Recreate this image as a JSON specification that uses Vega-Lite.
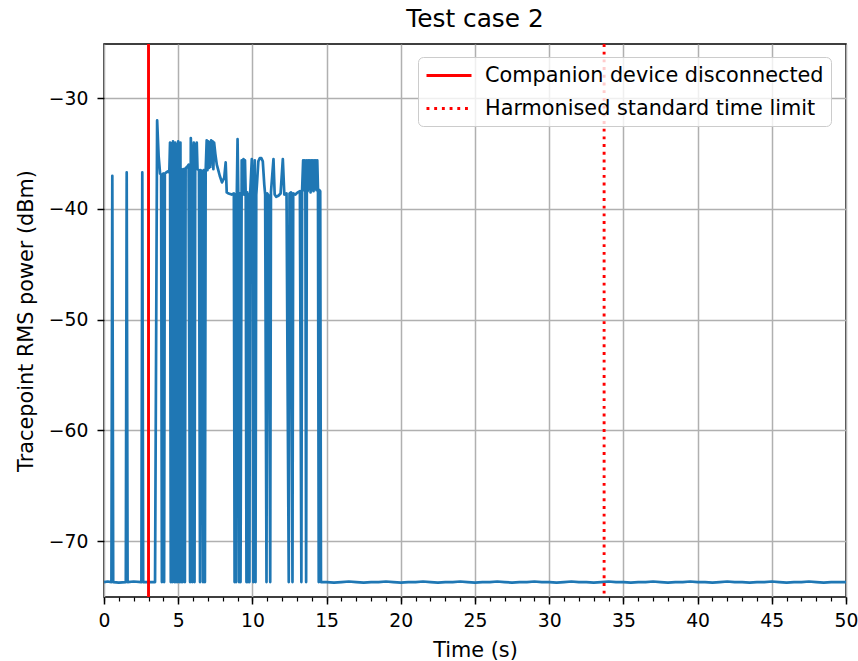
{
  "$schema": "https://vega.github.io/schema/vega-lite/v6.json",
  "autosize": {"type": "none"},
  "width": 742,
  "height": 553,
  "padding": {"left": 104, "top": 44, "right": 12, "bottom": 64},
  "title": {"text": "Test case 2", "fontSize": 24.8, "font": "DejaVu Sans", "fontWeight": "normal", "color": "#000", "offset": 11, "anchor": "middle"},
  "config": {
    "font": "DejaVu Sans",
    "view": {"stroke": "#000", "strokeWidth": 1.5},
    "background": "#ffffff"
  },
  "datasets": {
    "trace": [
      {"t": 0, "p": -73.7}, {"t": 0.25, "p": -73.65}, {"t": 0.5, "p": -73.7}, {"t": 0.56, "p": -37.0}, {"t": 0.62, "p": -73.7},
      {"t": 1.0, "p": -73.75}, {"t": 1.47, "p": -73.7}, {"t": 1.53, "p": -36.7}, {"t": 1.59, "p": -73.7},
      {"t": 2.0, "p": -73.65}, {"t": 2.52, "p": -73.7}, {"t": 2.58, "p": -36.7}, {"t": 2.64, "p": -73.7},
      {"t": 3.0, "p": -73.7}, {"t": 3.44, "p": -73.7}, {"t": 3.58, "p": -32.0}, {"t": 3.68, "p": -35.2}, {"t": 3.78, "p": -36.8},
      {"t": 3.85, "p": -36.9}, {"t": 3.9, "p": -73.7}, {"t": 3.95, "p": -36.9}, {"t": 4.0, "p": -36.8}, {"t": 4.05, "p": -73.7},
      {"t": 4.1, "p": -36.8}, {"t": 4.2, "p": -36.7}, {"t": 4.3, "p": -36.6}, {"t": 4.4, "p": -36.7},
      {"t": 4.45, "p": -34.0}, {"t": 4.5, "p": -73.7}, {"t": 4.55, "p": -34.1}, {"t": 4.6, "p": -73.7}, {"t": 4.65, "p": -33.9},
      {"t": 4.7, "p": -36.5}, {"t": 4.75, "p": -73.7}, {"t": 4.8, "p": -34.0}, {"t": 4.85, "p": -73.7}, {"t": 4.9, "p": -34.2},
      {"t": 4.95, "p": -73.7}, {"t": 5.0, "p": -33.9}, {"t": 5.05, "p": -36.4}, {"t": 5.1, "p": -73.7}, {"t": 5.15, "p": -34.0},
      {"t": 5.2, "p": -73.7}, {"t": 5.25, "p": -36.5}, {"t": 5.3, "p": -73.7}, {"t": 5.35, "p": -36.4}, {"t": 5.45, "p": -73.7},
      {"t": 5.5, "p": -36.3}, {"t": 5.6, "p": -36.2}, {"t": 5.7, "p": -36.0}, {"t": 5.8, "p": -73.7}, {"t": 5.85, "p": -33.6},
      {"t": 5.9, "p": -36.0}, {"t": 5.95, "p": -73.7}, {"t": 6.0, "p": -36.2}, {"t": 6.05, "p": -34.0}, {"t": 6.1, "p": -73.7},
      {"t": 6.15, "p": -34.2}, {"t": 6.2, "p": -36.3}, {"t": 6.25, "p": -34.0}, {"t": 6.3, "p": -36.4}, {"t": 6.4, "p": -36.5},
      {"t": 6.47, "p": -73.7}, {"t": 6.52, "p": -36.5}, {"t": 6.6, "p": -36.6}, {"t": 6.67, "p": -73.7}, {"t": 6.72, "p": -36.5},
      {"t": 6.8, "p": -73.7}, {"t": 6.85, "p": -36.6}, {"t": 6.92, "p": -33.8}, {"t": 6.97, "p": -36.5}, {"t": 7.02, "p": -33.9},
      {"t": 7.07, "p": -36.3}, {"t": 7.12, "p": -34.0}, {"t": 7.17, "p": -36.2}, {"t": 7.22, "p": -33.8}, {"t": 7.27, "p": -35.5},
      {"t": 7.32, "p": -33.9}, {"t": 7.37, "p": -36.4}, {"t": 7.42, "p": -34.0}, {"t": 7.5, "p": -35.0}, {"t": 7.6, "p": -36.0},
      {"t": 7.7, "p": -36.5}, {"t": 7.8, "p": -37.0}, {"t": 7.95, "p": -37.6}, {"t": 8.1, "p": -37.2}, {"t": 8.2, "p": -35.8},
      {"t": 8.27, "p": -38.5}, {"t": 8.4, "p": -38.6}, {"t": 8.6, "p": -38.7}, {"t": 8.75, "p": -38.6}, {"t": 8.8, "p": -73.7},
      {"t": 8.85, "p": -38.7}, {"t": 8.9, "p": -73.7}, {"t": 8.95, "p": -38.6}, {"t": 9.0, "p": -33.7}, {"t": 9.05, "p": -38.7},
      {"t": 9.1, "p": -73.7}, {"t": 9.15, "p": -38.6}, {"t": 9.2, "p": -73.7}, {"t": 9.28, "p": -35.6}, {"t": 9.35, "p": -38.7},
      {"t": 9.4, "p": -35.5}, {"t": 9.45, "p": -38.7}, {"t": 9.5, "p": -35.6}, {"t": 9.55, "p": -38.8}, {"t": 9.6, "p": -73.7},
      {"t": 9.65, "p": -38.5}, {"t": 9.7, "p": -73.7}, {"t": 9.75, "p": -38.7}, {"t": 9.8, "p": -73.7}, {"t": 9.85, "p": -38.6},
      {"t": 9.96, "p": -35.5}, {"t": 10.01, "p": -38.6}, {"t": 10.06, "p": -73.7}, {"t": 10.11, "p": -38.5}, {"t": 10.16, "p": -35.6},
      {"t": 10.21, "p": -73.7}, {"t": 10.26, "p": -38.7}, {"t": 10.32, "p": -37.5}, {"t": 10.4, "p": -35.7}, {"t": 10.5, "p": -35.4},
      {"t": 10.6, "p": -35.4}, {"t": 10.7, "p": -35.7}, {"t": 10.8, "p": -37.8}, {"t": 10.86, "p": -38.7}, {"t": 10.95, "p": -73.7},
      {"t": 11.0, "p": -38.6}, {"t": 11.1, "p": -38.8}, {"t": 11.2, "p": -73.7}, {"t": 11.25, "p": -38.5}, {"t": 11.42, "p": -35.5},
      {"t": 11.5, "p": -38.7}, {"t": 11.6, "p": -38.9}, {"t": 11.75, "p": -38.8}, {"t": 11.9, "p": -38.6}, {"t": 12.05, "p": -35.5},
      {"t": 12.15, "p": -38.7}, {"t": 12.3, "p": -38.6}, {"t": 12.45, "p": -73.7}, {"t": 12.5, "p": -38.6}, {"t": 12.6, "p": -38.5},
      {"t": 12.7, "p": -73.7}, {"t": 12.75, "p": -38.6}, {"t": 12.9, "p": -38.7}, {"t": 13.05, "p": -38.5}, {"t": 13.2, "p": -38.4},
      {"t": 13.3, "p": -73.7}, {"t": 13.35, "p": -38.3}, {"t": 13.42, "p": -35.6}, {"t": 13.47, "p": -38.3}, {"t": 13.52, "p": -35.6},
      {"t": 13.57, "p": -38.2}, {"t": 13.62, "p": -73.7}, {"t": 13.67, "p": -35.6}, {"t": 13.72, "p": -38.4}, {"t": 13.77, "p": -35.6},
      {"t": 13.82, "p": -38.2}, {"t": 13.87, "p": -35.6}, {"t": 13.92, "p": -38.5}, {"t": 13.97, "p": -35.6}, {"t": 14.02, "p": -38.3},
      {"t": 14.07, "p": -35.6}, {"t": 14.12, "p": -38.4}, {"t": 14.17, "p": -35.6}, {"t": 14.22, "p": -38.2}, {"t": 14.27, "p": -35.6},
      {"t": 14.32, "p": -38.3}, {"t": 14.37, "p": -35.6}, {"t": 14.42, "p": -38.3}, {"t": 14.47, "p": -73.7}, {"t": 14.52, "p": -38.3},
      {"t": 14.57, "p": -38.4}, {"t": 14.62, "p": -73.7},
      {"t": 15.0, "p": -73.7}, {"t": 15.5, "p": -73.75}, {"t": 16.0, "p": -73.7}, {"t": 16.5, "p": -73.65}, {"t": 17.0, "p": -73.7},
      {"t": 17.5, "p": -73.75}, {"t": 18.0, "p": -73.7}, {"t": 18.5, "p": -73.7}, {"t": 19.0, "p": -73.65}, {"t": 19.5, "p": -73.7},
      {"t": 20.0, "p": -73.75}, {"t": 20.5, "p": -73.7}, {"t": 21.0, "p": -73.7}, {"t": 21.5, "p": -73.65}, {"t": 22.0, "p": -73.7},
      {"t": 22.5, "p": -73.75}, {"t": 23.0, "p": -73.7}, {"t": 23.5, "p": -73.7}, {"t": 24.0, "p": -73.65}, {"t": 24.5, "p": -73.7},
      {"t": 25.0, "p": -73.75}, {"t": 25.5, "p": -73.7}, {"t": 26.0, "p": -73.7}, {"t": 26.5, "p": -73.65}, {"t": 27.0, "p": -73.7},
      {"t": 27.5, "p": -73.75}, {"t": 28.0, "p": -73.7}, {"t": 28.5, "p": -73.7}, {"t": 29.0, "p": -73.65}, {"t": 29.5, "p": -73.7},
      {"t": 30.0, "p": -73.7}, {"t": 30.5, "p": -73.75}, {"t": 31.0, "p": -73.7}, {"t": 31.5, "p": -73.65}, {"t": 32.0, "p": -73.7},
      {"t": 32.5, "p": -73.7}, {"t": 33.0, "p": -73.75}, {"t": 33.5, "p": -73.7}, {"t": 34.0, "p": -73.65}, {"t": 34.5, "p": -73.7},
      {"t": 35.0, "p": -73.7}, {"t": 35.5, "p": -73.75}, {"t": 36.0, "p": -73.7}, {"t": 36.5, "p": -73.7}, {"t": 37.0, "p": -73.65},
      {"t": 37.5, "p": -73.7}, {"t": 38.0, "p": -73.75}, {"t": 38.5, "p": -73.7}, {"t": 39.0, "p": -73.7}, {"t": 39.5, "p": -73.65},
      {"t": 40.0, "p": -73.7}, {"t": 40.5, "p": -73.7}, {"t": 41.0, "p": -73.75}, {"t": 41.5, "p": -73.7}, {"t": 42.0, "p": -73.65},
      {"t": 42.5, "p": -73.7}, {"t": 43.0, "p": -73.7}, {"t": 43.5, "p": -73.75}, {"t": 44.0, "p": -73.7}, {"t": 44.5, "p": -73.7},
      {"t": 45.0, "p": -73.65}, {"t": 45.5, "p": -73.7}, {"t": 46.0, "p": -73.75}, {"t": 46.5, "p": -73.7}, {"t": 47.0, "p": -73.7},
      {"t": 47.5, "p": -73.65}, {"t": 48.0, "p": -73.7}, {"t": 48.5, "p": -73.75}, {"t": 49.0, "p": -73.7}, {"t": 49.5, "p": -73.7},
      {"t": 50.0, "p": -73.7}
    ],
    "markers": [
      {"t": 3.0, "event": "Companion device disconnected"},
      {"t": 33.7, "event": "Harmonised standard time limit"}
    ]
  },
  "layer": [
    {
      "data": {"name": "trace"},
      "mark": {"type": "line", "color": "#1f77b4", "strokeWidth": 2.7, "strokeJoin": "round"},
      "encoding": {
        "x": {
          "field": "t", "type": "quantitative",
          "scale": {"domain": [0, 50], "nice": false, "zero": false},
          "axis": {
            "orient": "bottom", "values": [0, 5, 10, 15, 20, 25, 30, 35, 40, 45, 50], "format": "d",
            "title": "Time (s)", "titleFont": "DejaVu Sans", "titleFontSize": 20.8, "titleFontWeight": "normal", "titleColor": "#000", "titlePadding": 11,
            "labelFont": "DejaVu Sans", "labelFontSize": 18.8, "labelColor": "#000", "labelPadding": 7, "labelFlush": false, "labelOverlap": false,
            "domain": false, "grid": true, "gridColor": "#b0b0b0", "gridWidth": 1.5,
            "ticks": true, "tickSize": 7, "tickWidth": 1.5, "tickColor": "#000"
          }
        },
        "y": {
          "field": "p", "type": "quantitative",
          "scale": {"domain": [-75.05, -25.1], "nice": false, "zero": false},
          "axis": {
            "values": [-70, -60, -50, -40, -30], "format": "d",
            "title": "Tracepoint RMS power (dBm)", "titleFont": "DejaVu Sans", "titleFontSize": 20.8, "titleFontWeight": "normal", "titleColor": "#000", "titlePadding": 12,
            "labelFont": "DejaVu Sans", "labelFontSize": 18.8, "labelColor": "#000", "labelPadding": 9, "labelFlush": false, "labelOverlap": false,
            "domain": false, "grid": true, "gridColor": "#b0b0b0", "gridWidth": 1.5,
            "ticks": true, "tickSize": 7, "tickWidth": 1.5, "tickColor": "#000"
          }
        }
      }
    },
    {
      "data": {"name": "markers"},
      "mark": {"type": "rule", "strokeWidth": 2.9},
      "encoding": {
        "x": {
          "field": "t", "type": "quantitative",
          "scale": {"domain": [0, 50], "nice": false, "zero": false},
          "axis": {
            "orient": "bottom", "values": [0, 1, 2, 3, 4, 5, 6, 7, 8, 9, 10, 11, 12, 13, 14, 15, 16, 17, 18, 19, 20, 21, 22, 23, 24, 25, 26, 27, 28, 29, 30, 31, 32, 33, 34, 35, 36, 37, 38, 39, 40, 41, 42, 43, 44, 45, 46, 47, 48, 49, 50],
            "title": null, "labels": false, "domain": false, "grid": false,
            "ticks": true, "tickSize": 4, "tickWidth": 1.2, "tickColor": "#000"
          }
        },
        "color": {
          "field": "event", "type": "nominal",
          "scale": {"domain": ["Companion device disconnected", "Harmonised standard time limit"], "range": ["#ff0000", "#ff0000"]},
          "legend": {
            "orient": "none", "legendX": 314, "legendY": 13, "title": null,
            "labelFont": "DejaVu Sans", "labelFontSize": 20.8, "labelColor": "#000", "labelLimit": 500, "labelOffset": 37,
            "symbolType": "M-1,0H3.5", "symbolSize": 400, "symbolStrokeWidth": 2.9,
            "padding": 7, "rowPadding": 11,
            "strokeColor": "#cccccc", "fillColor": "rgba(255,255,255,0.8)", "cornerRadius": 5
          }
        },
        "strokeDash": {
          "field": "event", "type": "nominal",
          "scale": {"domain": ["Companion device disconnected", "Harmonised standard time limit"], "range": [[1, 0], [2.9, 4.8]]},
          "legend": {
            "orient": "none", "legendX": 314, "legendY": 13, "title": null,
            "labelFont": "DejaVu Sans", "labelFontSize": 20.8, "labelColor": "#000", "labelLimit": 500, "labelOffset": 37,
            "symbolType": "M-1,0H3.5", "symbolSize": 400, "symbolStrokeWidth": 2.9,
            "padding": 7, "rowPadding": 11,
            "strokeColor": "#cccccc", "fillColor": "rgba(255,255,255,0.8)", "cornerRadius": 5
          }
        }
      }
    }
  ],
  "resolve": {"axis": {"x": "independent"}}
}
